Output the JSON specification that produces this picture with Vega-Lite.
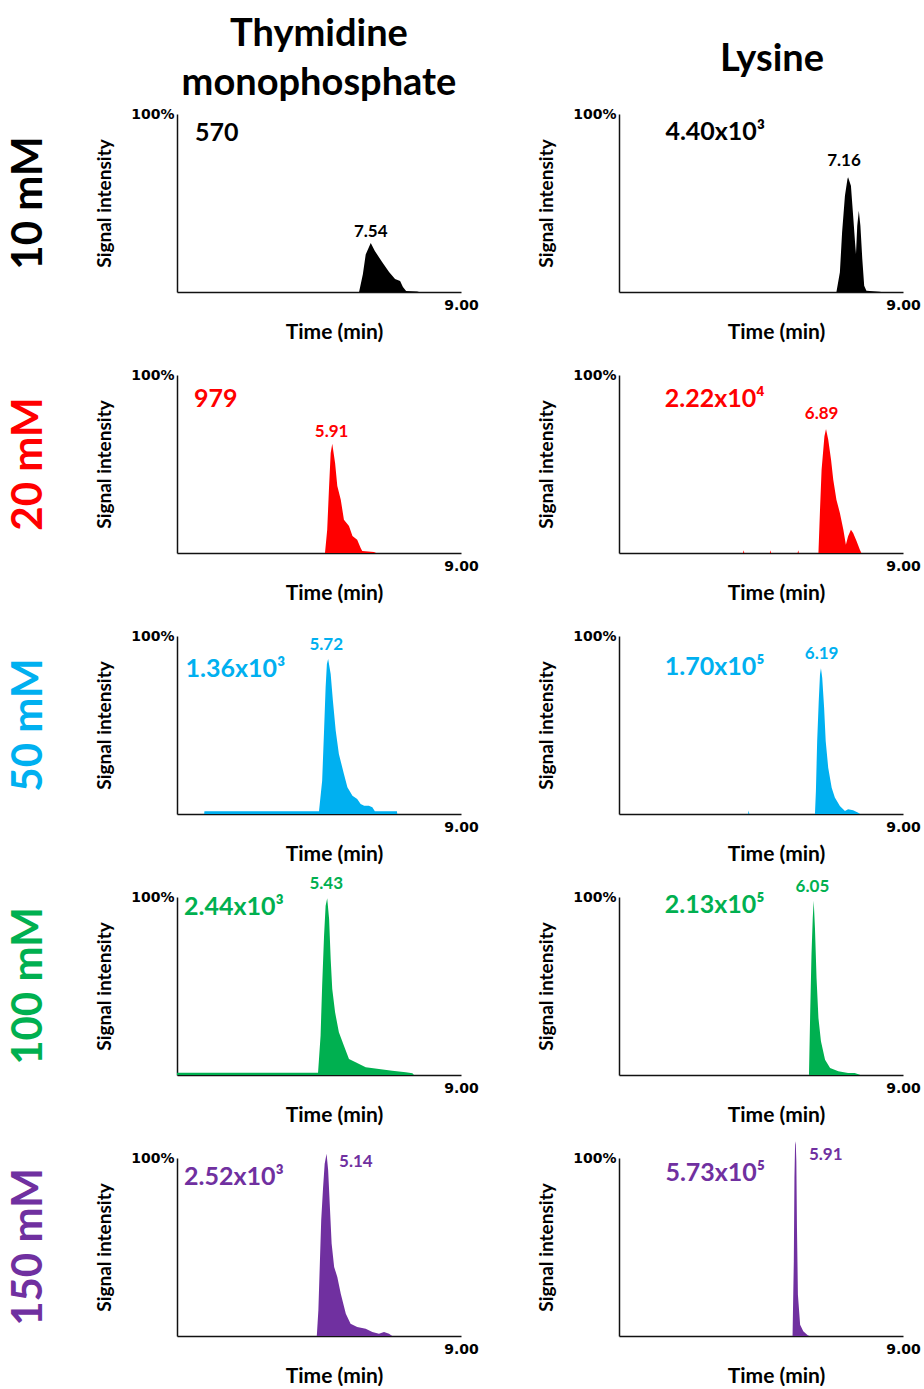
{
"$schema": "https://vega.github.io/schema/vega-lite/v6.json",
"padding": {"left": 7, "top": 15, "right": 0, "bottom": 0},
"background": "white",
"config": {
 "view": {"stroke": null},
 "font": "Lato",
 "axis": {"grid": false, "ticks": false, "tickSize": 0, "domainColor": "#111111", "domainWidth": 1.5, "labelFont": "DejaVu Sans", "labelFontWeight": "bold", "labelFontSize": 14, "labelColor": "#000000", "titleFont": "Lato", "titleFontWeight": "bold", "titleColor": "#000000", "zindex": 1},
 "axisX": {"labelPadding": 6, "labelFlush": false, "titleFontSize": 21, "titlePadding": 9, "titleX": 157},
 "axisY": {"labelPadding": 3, "titleFontSize": 19, "titlePadding": 16},
 "title": {"font": "Lato", "fontWeight": "bold", "color": "#000000"},
 "text": {"font": "Lato", "fontWeight": "bold", "baseline": "middle"}
},
"datasets": {
 "tr": [
  {"c":"10 mM","m":"TMP","t":5.77,"y":0},{"c":"10 mM","m":"TMP","t":5.89,"y":10},{"c":"10 mM","m":"TMP","t":5.98,"y":21},{"c":"10 mM","m":"TMP","t":6.14,"y":27.5},{"c":"10 mM","m":"TMP","t":6.27,"y":23},{"c":"10 mM","m":"TMP","t":6.5,"y":16.9},{"c":"10 mM","m":"TMP","t":6.72,"y":11.2},{"c":"10 mM","m":"TMP","t":6.91,"y":7.3},{"c":"10 mM","m":"TMP","t":7.07,"y":6.2},{"c":"10 mM","m":"TMP","t":7.16,"y":2.8},{"c":"10 mM","m":"TMP","t":7.26,"y":0.6},{"c":"10 mM","m":"TMP","t":7.61,"y":0.3},{"c":"10 mM","m":"TMP","t":7.67,"y":0},
  {"c":"10 mM","m":"Lys","t":6.89,"y":0},{"c":"10 mM","m":"Lys","t":7.0,"y":11.1},{"c":"10 mM","m":"Lys","t":7.07,"y":33.5},{"c":"10 mM","m":"Lys","t":7.16,"y":54.1},{"c":"10 mM","m":"Lys","t":7.24,"y":63.5},{"c":"10 mM","m":"Lys","t":7.26,"y":64.4},{"c":"10 mM","m":"Lys","t":7.35,"y":59.7},{"c":"10 mM","m":"Lys","t":7.42,"y":42.9},{"c":"10 mM","m":"Lys","t":7.48,"y":27.9},{"c":"10 mM","m":"Lys","t":7.51,"y":21.3},{"c":"10 mM","m":"Lys","t":7.55,"y":37.2},{"c":"10 mM","m":"Lys","t":7.6,"y":45.7},{"c":"10 mM","m":"Lys","t":7.65,"y":37.2},{"c":"10 mM","m":"Lys","t":7.71,"y":18.5},{"c":"10 mM","m":"Lys","t":7.77,"y":3.5},{"c":"10 mM","m":"Lys","t":7.84,"y":0.7},{"c":"10 mM","m":"Lys","t":8.26,"y":0.2},{"c":"10 mM","m":"Lys","t":8.31,"y":0},
  {"c":"20 mM","m":"TMP","t":4.69,"y":0},{"c":"20 mM","m":"TMP","t":4.76,"y":13.1},{"c":"20 mM","m":"TMP","t":4.82,"y":37.6},{"c":"20 mM","m":"TMP","t":4.87,"y":56.2},{"c":"20 mM","m":"TMP","t":4.92,"y":61.4},{"c":"20 mM","m":"TMP","t":5.01,"y":50.6},{"c":"20 mM","m":"TMP","t":5.08,"y":37.6},{"c":"20 mM","m":"TMP","t":5.19,"y":29.9},{"c":"20 mM","m":"TMP","t":5.29,"y":18.7},{"c":"20 mM","m":"TMP","t":5.45,"y":15.2},{"c":"20 mM","m":"TMP","t":5.56,"y":9.6},{"c":"20 mM","m":"TMP","t":5.71,"y":7.5},{"c":"20 mM","m":"TMP","t":5.82,"y":2.8},{"c":"20 mM","m":"TMP","t":5.87,"y":1.1},{"c":"20 mM","m":"TMP","t":6.24,"y":0.6},{"c":"20 mM","m":"TMP","t":6.31,"y":0},
  {"c":"20 mM","m":"Lys","t":3.93,"y":0},{"c":"20 mM","m":"Lys","t":3.95,"y":1.5},{"c":"20 mM","m":"Lys","t":3.97,"y":0},{"c":"20 mM","m":"Lys","t":4.78,"y":0},{"c":"20 mM","m":"Lys","t":4.8,"y":1.5},{"c":"20 mM","m":"Lys","t":4.82,"y":0},{"c":"20 mM","m":"Lys","t":5.66,"y":0},{"c":"20 mM","m":"Lys","t":5.68,"y":1.5},{"c":"20 mM","m":"Lys","t":5.7,"y":0},
  {"c":"20 mM","m":"Lys","t":6.32,"y":0},{"c":"20 mM","m":"Lys","t":6.37,"y":24.3},{"c":"20 mM","m":"Lys","t":6.42,"y":46.8},{"c":"20 mM","m":"Lys","t":6.51,"y":65.6},{"c":"20 mM","m":"Lys","t":6.56,"y":69.7},{"c":"20 mM","m":"Lys","t":6.63,"y":63.7},{"c":"20 mM","m":"Lys","t":6.72,"y":52.4},{"c":"20 mM","m":"Lys","t":6.79,"y":41.2},{"c":"20 mM","m":"Lys","t":6.89,"y":29.9},{"c":"20 mM","m":"Lys","t":7.0,"y":22.5},{"c":"20 mM","m":"Lys","t":7.11,"y":13.1},{"c":"20 mM","m":"Lys","t":7.19,"y":4.7},{"c":"20 mM","m":"Lys","t":7.26,"y":9.4},{"c":"20 mM","m":"Lys","t":7.35,"y":13.1},{"c":"20 mM","m":"Lys","t":7.42,"y":11.2},{"c":"20 mM","m":"Lys","t":7.53,"y":6.6},{"c":"20 mM","m":"Lys","t":7.63,"y":1.9},{"c":"20 mM","m":"Lys","t":7.68,"y":0},
  {"c":"50 mM","m":"TMP","t":0.86,"y":0},{"c":"50 mM","m":"TMP","t":0.87,"y":1.6},{"c":"50 mM","m":"TMP","t":4.5,"y":1.6},{"c":"50 mM","m":"TMP","t":4.6,"y":18.7},{"c":"50 mM","m":"TMP","t":4.66,"y":46.8},{"c":"50 mM","m":"TMP","t":4.71,"y":71.2},{"c":"50 mM","m":"TMP","t":4.75,"y":84.3},{"c":"50 mM","m":"TMP","t":4.79,"y":87.1},{"c":"50 mM","m":"TMP","t":4.87,"y":78.7},{"c":"50 mM","m":"TMP","t":4.94,"y":63.7},{"c":"50 mM","m":"TMP","t":5.03,"y":46.8},{"c":"50 mM","m":"TMP","t":5.13,"y":33.7},{"c":"50 mM","m":"TMP","t":5.29,"y":22.5},{"c":"50 mM","m":"TMP","t":5.4,"y":15.0},{"c":"50 mM","m":"TMP","t":5.56,"y":10.3},{"c":"50 mM","m":"TMP","t":5.71,"y":8.4},{"c":"50 mM","m":"TMP","t":5.82,"y":5.6},{"c":"50 mM","m":"TMP","t":5.93,"y":4.7},{"c":"50 mM","m":"TMP","t":6.08,"y":4.7},{"c":"50 mM","m":"TMP","t":6.19,"y":3.8},{"c":"50 mM","m":"TMP","t":6.27,"y":1.6},{"c":"50 mM","m":"TMP","t":6.97,"y":1.6},{"c":"50 mM","m":"TMP","t":6.98,"y":0},
  {"c":"50 mM","m":"Lys","t":4.09,"y":0},{"c":"50 mM","m":"Lys","t":4.11,"y":2},{"c":"50 mM","m":"Lys","t":4.13,"y":0},
  {"c":"50 mM","m":"Lys","t":6.21,"y":0},{"c":"50 mM","m":"Lys","t":6.24,"y":12.9},{"c":"50 mM","m":"Lys","t":6.28,"y":41.0},{"c":"50 mM","m":"Lys","t":6.33,"y":63.5},{"c":"50 mM","m":"Lys","t":6.37,"y":78.5},{"c":"50 mM","m":"Lys","t":6.4,"y":81.9},{"c":"50 mM","m":"Lys","t":6.44,"y":76.6},{"c":"50 mM","m":"Lys","t":6.5,"y":59.7},{"c":"50 mM","m":"Lys","t":6.55,"y":41.0},{"c":"50 mM","m":"Lys","t":6.63,"y":26.0},{"c":"50 mM","m":"Lys","t":6.74,"y":14.8},{"c":"50 mM","m":"Lys","t":6.84,"y":9.2},{"c":"50 mM","m":"Lys","t":7.0,"y":4.5},{"c":"50 mM","m":"Lys","t":7.16,"y":1.7},{"c":"50 mM","m":"Lys","t":7.26,"y":2.6},{"c":"50 mM","m":"Lys","t":7.42,"y":2.1},{"c":"50 mM","m":"Lys","t":7.58,"y":0.7},{"c":"50 mM","m":"Lys","t":7.64,"y":0},
  {"c":"100 mM","m":"TMP","t":0,"y":1.2},{"c":"100 mM","m":"TMP","t":4.47,"y":1.2},{"c":"100 mM","m":"TMP","t":4.55,"y":22.1},{"c":"100 mM","m":"TMP","t":4.6,"y":50.2},{"c":"100 mM","m":"TMP","t":4.66,"y":78.3},{"c":"100 mM","m":"TMP","t":4.71,"y":95.1},{"c":"100 mM","m":"TMP","t":4.76,"y":99.3},{"c":"100 mM","m":"TMP","t":4.82,"y":87.6},{"c":"100 mM","m":"TMP","t":4.87,"y":65.2},{"c":"100 mM","m":"TMP","t":4.92,"y":48.3},{"c":"100 mM","m":"TMP","t":5.01,"y":35.2},{"c":"100 mM","m":"TMP","t":5.13,"y":24.0},{"c":"100 mM","m":"TMP","t":5.29,"y":16.5},{"c":"100 mM","m":"TMP","t":5.45,"y":9.0},{"c":"100 mM","m":"TMP","t":5.66,"y":7.1},{"c":"100 mM","m":"TMP","t":5.98,"y":4.3},{"c":"100 mM","m":"TMP","t":6.4,"y":3.4},{"c":"100 mM","m":"TMP","t":6.82,"y":2.4},{"c":"100 mM","m":"TMP","t":7.25,"y":1.5},{"c":"100 mM","m":"TMP","t":7.46,"y":1.0},{"c":"100 mM","m":"TMP","t":7.51,"y":0},
  {"c":"100 mM","m":"Lys","t":6.02,"y":0},{"c":"100 mM","m":"Lys","t":6.06,"y":35.8},{"c":"100 mM","m":"Lys","t":6.1,"y":67.6},{"c":"100 mM","m":"Lys","t":6.14,"y":88.2},{"c":"100 mM","m":"Lys","t":6.17,"y":97.9},{"c":"100 mM","m":"Lys","t":6.21,"y":82.6},{"c":"100 mM","m":"Lys","t":6.26,"y":54.5},{"c":"100 mM","m":"Lys","t":6.32,"y":32.0},{"c":"100 mM","m":"Lys","t":6.4,"y":18.9},{"c":"100 mM","m":"Lys","t":6.53,"y":8.6},{"c":"100 mM","m":"Lys","t":6.69,"y":3.9},{"c":"100 mM","m":"Lys","t":6.95,"y":2.1},{"c":"100 mM","m":"Lys","t":7.26,"y":1.1},{"c":"100 mM","m":"Lys","t":7.47,"y":1.1},{"c":"100 mM","m":"Lys","t":7.63,"y":0.2},{"c":"100 mM","m":"Lys","t":7.65,"y":0},
  {"c":"150 mM","m":"TMP","t":4.43,"y":0},{"c":"150 mM","m":"TMP","t":4.48,"y":14.4},{"c":"150 mM","m":"TMP","t":4.52,"y":36.9},{"c":"150 mM","m":"TMP","t":4.57,"y":65.0},{"c":"150 mM","m":"TMP","t":4.63,"y":83.7},{"c":"150 mM","m":"TMP","t":4.68,"y":96.8},{"c":"150 mM","m":"TMP","t":4.74,"y":102.4},{"c":"150 mM","m":"TMP","t":4.79,"y":93.1},{"c":"150 mM","m":"TMP","t":4.84,"y":74.3},{"c":"150 mM","m":"TMP","t":4.9,"y":51.9},{"c":"150 mM","m":"TMP","t":4.98,"y":38.8},{"c":"150 mM","m":"TMP","t":5.08,"y":33.1},{"c":"150 mM","m":"TMP","t":5.19,"y":23.8},{"c":"150 mM","m":"TMP","t":5.35,"y":12.5},{"c":"150 mM","m":"TMP","t":5.5,"y":6.9},{"c":"150 mM","m":"TMP","t":5.71,"y":5.1},{"c":"150 mM","m":"TMP","t":5.98,"y":4.1},{"c":"150 mM","m":"TMP","t":6.19,"y":2.2},{"c":"150 mM","m":"TMP","t":6.4,"y":1.3},{"c":"150 mM","m":"TMP","t":6.56,"y":2.2},{"c":"150 mM","m":"TMP","t":6.72,"y":1.3},{"c":"150 mM","m":"TMP","t":6.82,"y":0},
  {"c":"150 mM","m":"Lys","t":5.5,"y":0},{"c":"150 mM","m":"Lys","t":5.54,"y":42.0},{"c":"150 mM","m":"Lys","t":5.56,"y":88.8},{"c":"150 mM","m":"Lys","t":5.58,"y":107.5},{"c":"150 mM","m":"Lys","t":5.6,"y":109.4},{"c":"150 mM","m":"Lys","t":5.62,"y":98.1},{"c":"150 mM","m":"Lys","t":5.64,"y":60.7},{"c":"150 mM","m":"Lys","t":5.67,"y":23.2},{"c":"150 mM","m":"Lys","t":5.74,"y":6.3},{"c":"150 mM","m":"Lys","t":5.84,"y":2.6},{"c":"150 mM","m":"Lys","t":5.98,"y":0.4},{"c":"150 mM","m":"Lys","t":6.03,"y":0}
 ],
 "lb": [
  {"c":"10 mM","m":"TMP","k":"h","t":4.5,"y":144.6,"s":"Thymidine\nmonophosphate"},{"c":"10 mM","m":"Lys","k":"h","t":4.85,"y":130.6,"s":"Lysine"},
  {"c":"10 mM","m":"TMP","k":"i","t":0.57,"y":89.6,"s":"570"},{"c":"10 mM","m":"TMP","k":"p","t":6.14,"y":33.9,"s":"7.54"},
  {"c":"10 mM","m":"Lys","k":"i","t":1.47,"y":89.7,"s":"4.40x10³"},{"c":"10 mM","m":"Lys","k":"p","t":7.13,"y":73.4,"s":"7.16"},
  {"c":"20 mM","m":"TMP","k":"i","t":0.54,"y":86.5,"s":"979"},{"c":"20 mM","m":"TMP","k":"p","t":4.9,"y":68,"s":"5.91"},
  {"c":"20 mM","m":"Lys","k":"i","t":1.45,"y":86.5,"s":"2.22x10⁴"},{"c":"20 mM","m":"Lys","k":"p","t":6.42,"y":78.2,"s":"6.89"},
  {"c":"50 mM","m":"TMP","k":"i","t":0.27,"y":81.5,"s":"1.36x10³"},{"c":"50 mM","m":"TMP","k":"p","t":4.73,"y":95.1,"s":"5.72"},
  {"c":"50 mM","m":"Lys","k":"i","t":1.45,"y":82.6,"s":"1.70x10⁵"},{"c":"50 mM","m":"Lys","k":"p","t":6.42,"y":89.7,"s":"6.19"},
  {"c":"100 mM","m":"TMP","k":"i","t":0.22,"y":94.2,"s":"2.44x10³"},{"c":"100 mM","m":"TMP","k":"p","t":4.73,"y":107.3,"s":"5.43"},
  {"c":"100 mM","m":"Lys","k":"i","t":1.45,"y":95.5,"s":"2.13x10⁵"},{"c":"100 mM","m":"Lys","k":"p","t":6.13,"y":105.5,"s":"6.05"},
  {"c":"150 mM","m":"TMP","k":"i","t":0.22,"y":89.3,"s":"2.52x10³"},{"c":"150 mM","m":"TMP","k":"p","t":5.67,"y":97.8,"s":"5.14"},
  {"c":"150 mM","m":"Lys","k":"i","t":1.47,"y":91.6,"s":"5.73x10⁵"},{"c":"150 mM","m":"Lys","k":"p","t":6.55,"y":101.9,"s":"5.91"}
 ]
},
"columns": 2,
"spacing": {"row": 83, "column": 158},
"bounds": "flush",
"concat": [
 {"width": 284, "height": 178, "title": {"text": "10 mM", "orient": "left", "fontSize": 42, "color": "#000000", "offset": 45},
  "layer": [
   {"data": {"name": "tr"}, "transform": [{"filter": "datum.c=='10 mM'&&datum.m=='TMP'"}], "mark": {"type": "area", "color": "#000000", "clip": false},
    "encoding": {"x": {"field": "t", "type": "quantitative", "scale": {"domain": [0, 9], "nice": false, "zero": false}, "axis": {"values": [9], "format": ".2f"}, "title": "Time (min)"},
                 "y": {"field": "y", "type": "quantitative", "scale": {"domain": [0, 100], "nice": false}, "axis": {"values": [100], "labelExpr": "datum.value + '%'"}, "title": "Signal intensity"}}},
   {"data": {"name": "lb"}, "transform": [{"filter": "datum.c=='10 mM'&&datum.m=='TMP'&&datum.k=='h'"}], "mark": {"type": "text", "align": "center", "fontSize": 38, "lineHeight": 49, "lineBreak": "\n", "color": "#000000"},
    "encoding": {"x": {"field": "t", "type": "quantitative"}, "y": {"field": "y", "type": "quantitative"}, "text": {"field": "s"}}},
   {"data": {"name": "lb"}, "transform": [{"filter": "datum.c=='10 mM'&&datum.m=='TMP'&&datum.k=='i'"}], "mark": {"type": "text", "align": "left", "fontSize": 25, "color": "#000000"},
    "encoding": {"x": {"field": "t", "type": "quantitative"}, "y": {"field": "y", "type": "quantitative"}, "text": {"field": "s"}}},
   {"data": {"name": "lb"}, "transform": [{"filter": "datum.c=='10 mM'&&datum.m=='TMP'&&datum.k=='p'"}], "mark": {"type": "text", "align": "center", "fontSize": 17, "color": "#000000"},
    "encoding": {"x": {"field": "t", "type": "quantitative"}, "y": {"field": "y", "type": "quantitative"}, "text": {"field": "s"}}}
  ]},
 {"width": 284, "height": 178,
  "layer": [
   {"data": {"name": "tr"}, "transform": [{"filter": "datum.c=='10 mM'&&datum.m=='Lys'"}], "mark": {"type": "area", "color": "#000000", "clip": false},
    "encoding": {"x": {"field": "t", "type": "quantitative", "scale": {"domain": [0, 9], "nice": false, "zero": false}, "axis": {"values": [9], "format": ".2f"}, "title": "Time (min)"},
                 "y": {"field": "y", "type": "quantitative", "scale": {"domain": [0, 100], "nice": false}, "axis": {"values": [100], "labelExpr": "datum.value + '%'"}, "title": "Signal intensity"}}},
   {"data": {"name": "lb"}, "transform": [{"filter": "datum.c=='10 mM'&&datum.m=='Lys'&&datum.k=='h'"}], "mark": {"type": "text", "align": "center", "fontSize": 38, "lineHeight": 49, "lineBreak": "\n", "color": "#000000"},
    "encoding": {"x": {"field": "t", "type": "quantitative"}, "y": {"field": "y", "type": "quantitative"}, "text": {"field": "s"}}},
   {"data": {"name": "lb"}, "transform": [{"filter": "datum.c=='10 mM'&&datum.m=='Lys'&&datum.k=='i'"}], "mark": {"type": "text", "align": "left", "fontSize": 25, "color": "#000000"},
    "encoding": {"x": {"field": "t", "type": "quantitative"}, "y": {"field": "y", "type": "quantitative"}, "text": {"field": "s"}}},
   {"data": {"name": "lb"}, "transform": [{"filter": "datum.c=='10 mM'&&datum.m=='Lys'&&datum.k=='p'"}], "mark": {"type": "text", "align": "center", "fontSize": 17, "color": "#000000"},
    "encoding": {"x": {"field": "t", "type": "quantitative"}, "y": {"field": "y", "type": "quantitative"}, "text": {"field": "s"}}}
  ]},
 {"width": 284, "height": 178, "title": {"text": "20 mM", "orient": "left", "fontSize": 42, "color": "#FF0000", "offset": 45},
  "layer": [
   {"data": {"name": "tr"}, "transform": [{"filter": "datum.c=='20 mM'&&datum.m=='TMP'"}], "mark": {"type": "area", "color": "#FF0000", "clip": false},
    "encoding": {"x": {"field": "t", "type": "quantitative", "scale": {"domain": [0, 9], "nice": false, "zero": false}, "axis": {"values": [9], "format": ".2f"}, "title": "Time (min)"},
                 "y": {"field": "y", "type": "quantitative", "scale": {"domain": [0, 100], "nice": false}, "axis": {"values": [100], "labelExpr": "datum.value + '%'"}, "title": "Signal intensity"}}},
   {"data": {"name": "lb"}, "transform": [{"filter": "datum.c=='20 mM'&&datum.m=='TMP'&&datum.k=='i'"}], "mark": {"type": "text", "align": "left", "fontSize": 25, "color": "#FF0000"},
    "encoding": {"x": {"field": "t", "type": "quantitative"}, "y": {"field": "y", "type": "quantitative"}, "text": {"field": "s"}}},
   {"data": {"name": "lb"}, "transform": [{"filter": "datum.c=='20 mM'&&datum.m=='TMP'&&datum.k=='p'"}], "mark": {"type": "text", "align": "center", "fontSize": 17, "color": "#FF0000"},
    "encoding": {"x": {"field": "t", "type": "quantitative"}, "y": {"field": "y", "type": "quantitative"}, "text": {"field": "s"}}}
  ]},
 {"width": 284, "height": 178,
  "layer": [
   {"data": {"name": "tr"}, "transform": [{"filter": "datum.c=='20 mM'&&datum.m=='Lys'"}], "mark": {"type": "area", "color": "#FF0000", "clip": false},
    "encoding": {"x": {"field": "t", "type": "quantitative", "scale": {"domain": [0, 9], "nice": false, "zero": false}, "axis": {"values": [9], "format": ".2f"}, "title": "Time (min)"},
                 "y": {"field": "y", "type": "quantitative", "scale": {"domain": [0, 100], "nice": false}, "axis": {"values": [100], "labelExpr": "datum.value + '%'"}, "title": "Signal intensity"}}},
   {"data": {"name": "lb"}, "transform": [{"filter": "datum.c=='20 mM'&&datum.m=='Lys'&&datum.k=='i'"}], "mark": {"type": "text", "align": "left", "fontSize": 25, "color": "#FF0000"},
    "encoding": {"x": {"field": "t", "type": "quantitative"}, "y": {"field": "y", "type": "quantitative"}, "text": {"field": "s"}}},
   {"data": {"name": "lb"}, "transform": [{"filter": "datum.c=='20 mM'&&datum.m=='Lys'&&datum.k=='p'"}], "mark": {"type": "text", "align": "center", "fontSize": 17, "color": "#FF0000"},
    "encoding": {"x": {"field": "t", "type": "quantitative"}, "y": {"field": "y", "type": "quantitative"}, "text": {"field": "s"}}}
  ]},
 {"width": 284, "height": 178, "title": {"text": "50 mM", "orient": "left", "fontSize": 42, "color": "#00B0F0", "offset": 45},
  "layer": [
   {"data": {"name": "tr"}, "transform": [{"filter": "datum.c=='50 mM'&&datum.m=='TMP'"}], "mark": {"type": "area", "color": "#00B0F0", "clip": false},
    "encoding": {"x": {"field": "t", "type": "quantitative", "scale": {"domain": [0, 9], "nice": false, "zero": false}, "axis": {"values": [9], "format": ".2f"}, "title": "Time (min)"},
                 "y": {"field": "y", "type": "quantitative", "scale": {"domain": [0, 100], "nice": false}, "axis": {"values": [100], "labelExpr": "datum.value + '%'"}, "title": "Signal intensity"}}},
   {"data": {"name": "lb"}, "transform": [{"filter": "datum.c=='50 mM'&&datum.m=='TMP'&&datum.k=='i'"}], "mark": {"type": "text", "align": "left", "fontSize": 25, "color": "#00B0F0"},
    "encoding": {"x": {"field": "t", "type": "quantitative"}, "y": {"field": "y", "type": "quantitative"}, "text": {"field": "s"}}},
   {"data": {"name": "lb"}, "transform": [{"filter": "datum.c=='50 mM'&&datum.m=='TMP'&&datum.k=='p'"}], "mark": {"type": "text", "align": "center", "fontSize": 17, "color": "#00B0F0"},
    "encoding": {"x": {"field": "t", "type": "quantitative"}, "y": {"field": "y", "type": "quantitative"}, "text": {"field": "s"}}}
  ]},
 {"width": 284, "height": 178,
  "layer": [
   {"data": {"name": "tr"}, "transform": [{"filter": "datum.c=='50 mM'&&datum.m=='Lys'"}], "mark": {"type": "area", "color": "#00B0F0", "clip": false},
    "encoding": {"x": {"field": "t", "type": "quantitative", "scale": {"domain": [0, 9], "nice": false, "zero": false}, "axis": {"values": [9], "format": ".2f"}, "title": "Time (min)"},
                 "y": {"field": "y", "type": "quantitative", "scale": {"domain": [0, 100], "nice": false}, "axis": {"values": [100], "labelExpr": "datum.value + '%'"}, "title": "Signal intensity"}}},
   {"data": {"name": "lb"}, "transform": [{"filter": "datum.c=='50 mM'&&datum.m=='Lys'&&datum.k=='i'"}], "mark": {"type": "text", "align": "left", "fontSize": 25, "color": "#00B0F0"},
    "encoding": {"x": {"field": "t", "type": "quantitative"}, "y": {"field": "y", "type": "quantitative"}, "text": {"field": "s"}}},
   {"data": {"name": "lb"}, "transform": [{"filter": "datum.c=='50 mM'&&datum.m=='Lys'&&datum.k=='p'"}], "mark": {"type": "text", "align": "center", "fontSize": 17, "color": "#00B0F0"},
    "encoding": {"x": {"field": "t", "type": "quantitative"}, "y": {"field": "y", "type": "quantitative"}, "text": {"field": "s"}}}
  ]},
 {"width": 284, "height": 178, "title": {"text": "100 mM", "orient": "left", "fontSize": 42, "color": "#00B050", "offset": 45},
  "layer": [
   {"data": {"name": "tr"}, "transform": [{"filter": "datum.c=='100 mM'&&datum.m=='TMP'"}], "mark": {"type": "area", "color": "#00B050", "clip": false},
    "encoding": {"x": {"field": "t", "type": "quantitative", "scale": {"domain": [0, 9], "nice": false, "zero": false}, "axis": {"values": [9], "format": ".2f"}, "title": "Time (min)"},
                 "y": {"field": "y", "type": "quantitative", "scale": {"domain": [0, 100], "nice": false}, "axis": {"values": [100], "labelExpr": "datum.value + '%'"}, "title": "Signal intensity"}}},
   {"data": {"name": "lb"}, "transform": [{"filter": "datum.c=='100 mM'&&datum.m=='TMP'&&datum.k=='i'"}], "mark": {"type": "text", "align": "left", "fontSize": 25, "color": "#00B050"},
    "encoding": {"x": {"field": "t", "type": "quantitative"}, "y": {"field": "y", "type": "quantitative"}, "text": {"field": "s"}}},
   {"data": {"name": "lb"}, "transform": [{"filter": "datum.c=='100 mM'&&datum.m=='TMP'&&datum.k=='p'"}], "mark": {"type": "text", "align": "center", "fontSize": 17, "color": "#00B050"},
    "encoding": {"x": {"field": "t", "type": "quantitative"}, "y": {"field": "y", "type": "quantitative"}, "text": {"field": "s"}}}
  ]},
 {"width": 284, "height": 178,
  "layer": [
   {"data": {"name": "tr"}, "transform": [{"filter": "datum.c=='100 mM'&&datum.m=='Lys'"}], "mark": {"type": "area", "color": "#00B050", "clip": false},
    "encoding": {"x": {"field": "t", "type": "quantitative", "scale": {"domain": [0, 9], "nice": false, "zero": false}, "axis": {"values": [9], "format": ".2f"}, "title": "Time (min)"},
                 "y": {"field": "y", "type": "quantitative", "scale": {"domain": [0, 100], "nice": false}, "axis": {"values": [100], "labelExpr": "datum.value + '%'"}, "title": "Signal intensity"}}},
   {"data": {"name": "lb"}, "transform": [{"filter": "datum.c=='100 mM'&&datum.m=='Lys'&&datum.k=='i'"}], "mark": {"type": "text", "align": "left", "fontSize": 25, "color": "#00B050"},
    "encoding": {"x": {"field": "t", "type": "quantitative"}, "y": {"field": "y", "type": "quantitative"}, "text": {"field": "s"}}},
   {"data": {"name": "lb"}, "transform": [{"filter": "datum.c=='100 mM'&&datum.m=='Lys'&&datum.k=='p'"}], "mark": {"type": "text", "align": "center", "fontSize": 17, "color": "#00B050"},
    "encoding": {"x": {"field": "t", "type": "quantitative"}, "y": {"field": "y", "type": "quantitative"}, "text": {"field": "s"}}}
  ]},
 {"width": 284, "height": 178, "title": {"text": "150 mM", "orient": "left", "fontSize": 42, "color": "#7030A0", "offset": 45},
  "layer": [
   {"data": {"name": "tr"}, "transform": [{"filter": "datum.c=='150 mM'&&datum.m=='TMP'"}], "mark": {"type": "area", "color": "#7030A0", "clip": false},
    "encoding": {"x": {"field": "t", "type": "quantitative", "scale": {"domain": [0, 9], "nice": false, "zero": false}, "axis": {"values": [9], "format": ".2f"}, "title": "Time (min)"},
                 "y": {"field": "y", "type": "quantitative", "scale": {"domain": [0, 100], "nice": false}, "axis": {"values": [100], "labelExpr": "datum.value + '%'"}, "title": "Signal intensity"}}},
   {"data": {"name": "lb"}, "transform": [{"filter": "datum.c=='150 mM'&&datum.m=='TMP'&&datum.k=='i'"}], "mark": {"type": "text", "align": "left", "fontSize": 25, "color": "#7030A0"},
    "encoding": {"x": {"field": "t", "type": "quantitative"}, "y": {"field": "y", "type": "quantitative"}, "text": {"field": "s"}}},
   {"data": {"name": "lb"}, "transform": [{"filter": "datum.c=='150 mM'&&datum.m=='TMP'&&datum.k=='p'"}], "mark": {"type": "text", "align": "center", "fontSize": 17, "color": "#7030A0"},
    "encoding": {"x": {"field": "t", "type": "quantitative"}, "y": {"field": "y", "type": "quantitative"}, "text": {"field": "s"}}}
  ]},
 {"width": 284, "height": 178,
  "layer": [
   {"data": {"name": "tr"}, "transform": [{"filter": "datum.c=='150 mM'&&datum.m=='Lys'"}], "mark": {"type": "area", "color": "#7030A0", "clip": false},
    "encoding": {"x": {"field": "t", "type": "quantitative", "scale": {"domain": [0, 9], "nice": false, "zero": false}, "axis": {"values": [9], "format": ".2f"}, "title": "Time (min)"},
                 "y": {"field": "y", "type": "quantitative", "scale": {"domain": [0, 100], "nice": false}, "axis": {"values": [100], "labelExpr": "datum.value + '%'"}, "title": "Signal intensity"}}},
   {"data": {"name": "lb"}, "transform": [{"filter": "datum.c=='150 mM'&&datum.m=='Lys'&&datum.k=='i'"}], "mark": {"type": "text", "align": "left", "fontSize": 25, "color": "#7030A0"},
    "encoding": {"x": {"field": "t", "type": "quantitative"}, "y": {"field": "y", "type": "quantitative"}, "text": {"field": "s"}}},
   {"data": {"name": "lb"}, "transform": [{"filter": "datum.c=='150 mM'&&datum.m=='Lys'&&datum.k=='p'"}], "mark": {"type": "text", "align": "center", "fontSize": 17, "color": "#7030A0"},
    "encoding": {"x": {"field": "t", "type": "quantitative"}, "y": {"field": "y", "type": "quantitative"}, "text": {"field": "s"}}}
  ]}
]
}
